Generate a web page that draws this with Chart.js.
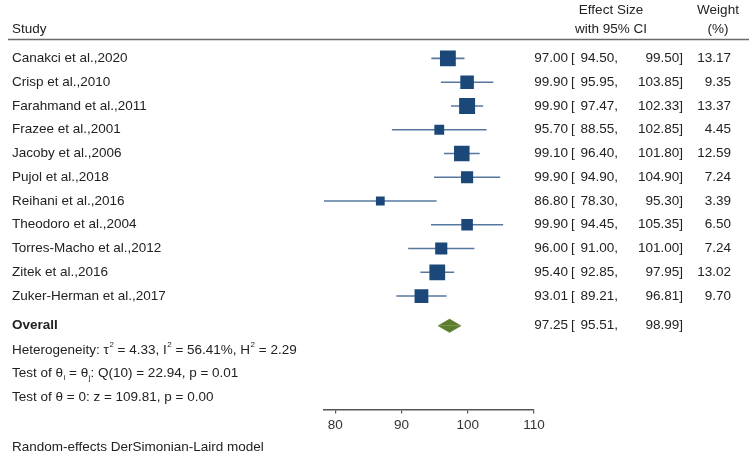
<!DOCTYPE html>
<html>
<head>
<meta charset="utf-8">
<script src="https://cdn.jsdelivr.net/npm/chart.js@4.4.1/dist/chart.umd.min.js"></script>
<style>
  html, body { margin: 0; padding: 0; background: #ffffff; }
  #c { display: block; }
</style>
</head>
<body>
<canvas id="c" width="749" height="457"></canvas>
<script>
// ---------- data ----------
const studies = [
  "Canakci et al.,2020", "Crisp et al.,2010", "Farahmand et al.,2011", "Frazee et al.,2001",
  "Jacoby et al.,2006", "Pujol et al.,2018", "Reihani et al.,2016", "Theodoro et al.,2004",
  "Torres-Macho et al.,2012", "Zitek et al.,2016", "Zuker-Herman et al.,2017"
];
const effect = [97.00, 99.90, 99.90, 95.70, 99.10, 99.90, 86.80, 99.90, 96.00, 95.40, 93.01];
const ciLow  = [94.50, 95.95, 97.47, 88.55, 96.40, 94.90, 78.30, 94.45, 91.00, 92.85, 89.21];
const ciHigh = [99.50, 103.85, 102.33, 102.85, 101.80, 104.90, 95.30, 105.35, 101.00, 97.95, 96.81];
const weight = [13.17, 9.35, 13.37, 4.45, 12.59, 7.24, 3.39, 6.50, 7.24, 13.02, 9.70];
const overallLabel = "Overall";
const overallEffect = 97.25;
const overallLow = 95.51;
const overallHigh = 98.99;
const xTicks = [80, 90, 100, 110];
const statLines = {
  heterogeneity: { tau2: "4.33", i2: "56.41%", h2: "2.29" },
  q: { df: 10, value: "22.94", p: "0.01" },
  z: { value: "109.81", p: "0.00" }
};
const modelNote = "Random-effects DerSimonian-Laird model";

// ---------- styles ----------
const FONT_FAMILY = '"Liberation Sans", Arial, sans-serif';
const FONT = '13.5px ' + FONT_FAMILY;
const FONT_BOLD = 'bold 13.5px ' + FONT_FAMILY;
const FONT_SMALL = '8px ' + FONT_FAMILY;
const TEXT = '#222222';
const BOX = '#1b4878';
const CI_LINE = '#56789f';
const DIAMOND = '#5b7d2d';

const overallRow = studies.length + 0.25;
const diamondHalf = 0.28;

function boxSide(w) { return 1.5 + 3.95 * Math.sqrt(w); }

// ---------- datasets ----------
const datasets = [];
datasets.push({
  type: 'scatter',
  label: 'effect',
  order: 0,
  data: effect.map((v, i) => ({ x: v, y: i })),
  pointStyle: 'rect',
  pointRadius: (c) => boxSide(weight[c.dataIndex]) / Math.SQRT2,
  pointHoverRadius: (c) => boxSide(weight[c.dataIndex]) / Math.SQRT2,
  backgroundColor: BOX,
  borderColor: BOX,
  borderWidth: 0
});
studies.forEach((s, i) => {
  datasets.push({
    type: 'line',
    label: 'ci' + i,
    order: 1,
    data: [{ x: ciLow[i], y: i }, { x: ciHigh[i], y: i }],
    borderColor: CI_LINE,
    borderWidth: 1.6,
    pointRadius: 0,
    fill: false,
    clip: false
  });
});
datasets.push({
  type: 'line',
  label: 'diamondTop',
  order: 1,
  data: [
    { x: overallLow, y: overallRow },
    { x: overallEffect, y: overallRow - diamondHalf },
    { x: overallHigh, y: overallRow }
  ],
  borderColor: DIAMOND,
  borderWidth: 0.5,
  backgroundColor: DIAMOND,
  pointRadius: 0,
  tension: 0,
  fill: { value: overallRow }
});
datasets.push({
  type: 'line',
  label: 'diamondBottom',
  order: 1,
  data: [
    { x: overallLow, y: overallRow },
    { x: overallEffect, y: overallRow + diamondHalf },
    { x: overallHigh, y: overallRow }
  ],
  borderColor: DIAMOND,
  borderWidth: 0.5,
  backgroundColor: DIAMOND,
  pointRadius: 0,
  tension: 0,
  fill: { value: overallRow }
});

// ---------- text plugin ----------
function drawRich(ctx, parts, x, y) {
  for (const [t, mode] of parts) {
    if (mode === 'sup') {
      ctx.font = FONT_SMALL;
      ctx.fillText(t, x + 0.5, y - 5);
      x += ctx.measureText(t).width + 0.5;
    } else if (mode === 'sub') {
      ctx.font = FONT_SMALL;
      ctx.fillText(t, x + 0.5, y + 4);
      x += ctx.measureText(t).width + 0.5;
    } else {
      ctx.font = FONT;
      ctx.fillText(t, x, y);
      x += ctx.measureText(t).width;
    }
  }
}

const forestText = {
  id: 'forestText',
  afterDraw(chart) {
    const ctx = chart.ctx;
    const ys = chart.scales.y;
    const LEFT = 12;
    const EST_R = 568, BR_L = 571, LO_R = 618, HI_R = 683, WT_R = 731;
    ctx.save();
    ctx.fillStyle = TEXT;
    ctx.textBaseline = 'middle';
    ctx.font = FONT;

    // header
    ctx.textAlign = 'left';
    ctx.fillText('Study', LEFT, 29.5);
    ctx.textAlign = 'center';
    ctx.fillText('Effect Size', 611, 10.5);
    ctx.fillText('with 95% CI', 611, 29.5);
    ctx.fillText('Weight', 718, 10.5);
    ctx.fillText('(%)', 718, 29.5);

    ctx.strokeStyle = '#6a6a6a';
    ctx.lineWidth = 1.5;
    ctx.beginPath();
    ctx.moveTo(8, 39.5);
    ctx.lineTo(749, 39.5);
    ctx.stroke();

    function valueRow(py, e, l, h, w) {
      ctx.font = FONT;
      ctx.textAlign = 'right';
      ctx.fillText(e.toFixed(2), EST_R, py);
      ctx.textAlign = 'left';
      ctx.fillText('[', BR_L, py);
      ctx.textAlign = 'right';
      ctx.fillText(l.toFixed(2) + ',', LO_R, py);
      ctx.fillText(h.toFixed(2) + ']', HI_R, py);
      if (w !== null) ctx.fillText(w.toFixed(2), WT_R, py);
    }

    studies.forEach((s, i) => {
      const py = ys.getPixelForValue(i);
      ctx.font = FONT;
      ctx.textAlign = 'left';
      ctx.fillText(s, LEFT, py);
      valueRow(py, effect[i], ciLow[i], ciHigh[i], weight[i]);
    });

    const po = ys.getPixelForValue(overallRow);
    ctx.font = FONT_BOLD;
    ctx.textAlign = 'left';
    ctx.fillText(overallLabel, LEFT, po);
    valueRow(po, overallEffect, overallLow, overallHigh, null);

    ctx.textAlign = 'left';
    const hs = statLines.heterogeneity;
    drawRich(ctx, [
      ['Heterogeneity: \u03C4', 'n'], ['2', 'sup'], [' = ' + hs.tau2 + ', I', 'n'], ['2', 'sup'],
      [' = ' + hs.i2 + ', H', 'n'], ['2', 'sup'], [' = ' + hs.h2, 'n']
    ], LEFT, ys.getPixelForValue(overallRow + 1.02));
    const q = statLines.q;
    drawRich(ctx, [
      ['Test of \u03B8', 'n'], ['i', 'sub'], [' = \u03B8', 'n'], ['j', 'sub'],
      [': Q(' + q.df + ') = ' + q.value + ', p = ' + q.p, 'n']
    ], LEFT, ys.getPixelForValue(overallRow + 2.02));
    const z = statLines.z;
    drawRich(ctx, [
      ['Test of \u03B8 = 0: z = ' + z.value + ', p = ' + z.p, 'n']
    ], LEFT, ys.getPixelForValue(overallRow + 3.02));

    ctx.font = FONT;
    ctx.fillText(modelNote, LEFT, 447);
    ctx.restore();
  }
};

// ---------- chart ----------
new Chart(document.getElementById('c'), {
  type: 'scatter',
  data: { datasets },
  options: {
    responsive: false,
    animation: false,
    devicePixelRatio: 1,
    layout: { autoPadding: false, padding: { left: 324, right: 215, top: 0, bottom: 19.4 } },
    plugins: { legend: { display: false }, tooltip: { enabled: false } },
    scales: {
      x: {
        type: 'linear',
        min: Math.min(...ciLow),
        max: xTicks[xTicks.length - 1],
        afterBuildTicks: (scale) => { scale.ticks = xTicks.map(v => ({ value: v })); },
        grid: { display: true, drawOnChartArea: false, drawTicks: true, tickLength: 4, color: '#555555', lineWidth: 1.2 },
        border: { display: true, color: '#555555', width: 1.5 },
        ticks: { color: '#333333', padding: 4, font: { family: FONT_FAMILY, size: 13.5 } }
      },
      y: {
        type: 'linear',
        display: false,
        reverse: true,
        min: -2.458,
        max: 14.769
      }
    }
  },
  plugins: [forestText]
});
</script>
</body>
</html>
